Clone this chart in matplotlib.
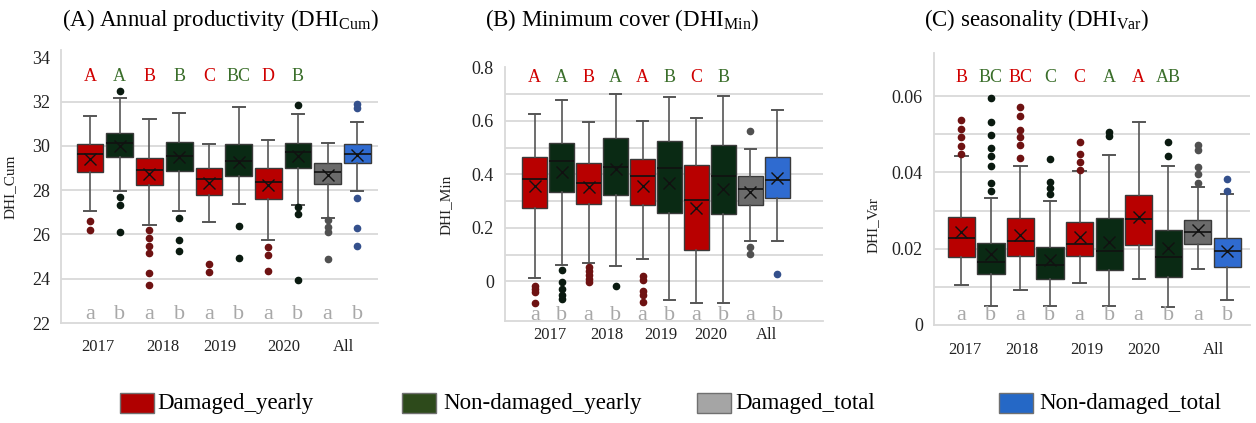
import matplotlib
matplotlib.use('Agg')
import matplotlib.pyplot as plt
from matplotlib.patches import Rectangle

plt.rcParams['font.family'] = ['Liberation Serif', 'DejaVu Serif']
plt.rcParams['mathtext.fontset'] = 'custom'
plt.rcParams['mathtext.rm'] = 'Liberation Serif'
plt.rcParams['mathtext.it'] = 'Liberation Serif:italic'

# order: 2017 D, 2017 ND, 2018 D, 2018 ND, 2019 D, 2019 ND, 2020 D, 2020 ND, All D, All ND
years = ['2017', '2018', '2019', '2020', 'All']
sig_ab = ['a', 'b'] * 5

# (A) DHI_Cum
cum_whishi = [31.36, 32.18, 31.20, 31.47, 30.07, 31.77, 30.26, 31.44, 30.14, 31.06]
cum_q3 = [30.08, 30.59, 29.45, 30.19, 29.01, 30.07, 28.98, 30.14, 29.24, 30.08]
cum_med = [29.61, 30.14, 28.90, 29.55, 28.48, 29.30, 28.38, 29.73, 28.80, 29.63]
cum_mean = [29.40, 30.00, 28.72, 29.50, 28.33, 29.28, 28.21, 29.55, 28.68, 29.58]
cum_q1 = [28.80, 29.51, 28.21, 28.87, 27.79, 28.63, 27.62, 28.98, 28.26, 29.21]
cum_whislo = [27.05, 27.95, 26.42, 27.05, 26.58, 27.37, 25.74, 27.32, 26.76, 27.97]
cum_fliers = [[26.61, 26.19], [32.48, 27.70, 27.31, 26.09],
              [26.22, 25.84, 25.47, 25.17, 24.28, 23.70], [26.75, 25.74, 25.26],
              [24.68, 24.31], [26.40, 24.94], [25.44, 25.06, 24.37],
              [31.84, 27.22, 26.94, 23.96], [26.64, 26.34, 26.12, 24.91],
              [31.89, 31.69, 27.65, 26.27, 25.47]]
cum_letters = ['A', 'A', 'B', 'B', 'C', 'BC', 'D', 'B']

# (B) DHI_Min
min_whishi = [0.625, 0.678, 0.594, 0.700, 0.599, 0.690, 0.609, 0.694, 0.494, 0.640]
min_q3 = [0.466, 0.518, 0.444, 0.534, 0.457, 0.526, 0.434, 0.509, 0.395, 0.463]
min_med = [0.381, 0.451, 0.367, 0.426, 0.393, 0.424, 0.303, 0.395, 0.345, 0.378]
min_mean = [0.356, 0.409, 0.353, 0.419, 0.357, 0.366, 0.275, 0.347, 0.335, 0.385]
min_q1 = [0.276, 0.333, 0.291, 0.322, 0.287, 0.256, 0.119, 0.251, 0.287, 0.313]
min_whislo = [0.012, 0.062, 0.069, 0.056, 0.084, -0.071, -0.081, -0.081, 0.151, 0.151]
min_fliers = [[-0.017, -0.029, -0.041, -0.081], [0.041, -0.002, -0.027, -0.052, -0.065],
              [0.054, 0.039, 0.025, 0.010, -0.002], [-0.017],
              [0.022, 0.006, -0.034, -0.050, -0.077], [], [], [],
              [0.562, 0.129, 0.101], [0.029]]
min_letters = ['A', 'A', 'B', 'A', 'A', 'B', 'C', 'B']

# (C) DHI_Var
var_whishi = [0.0442, 0.0334, 0.0416, 0.0324, 0.0404, 0.0446, 0.0531, 0.0418, 0.0361, 0.0343]
var_q3 = [0.0284, 0.0216, 0.0280, 0.0204, 0.0271, 0.0280, 0.0341, 0.0249, 0.0274, 0.0228]
var_med = [0.0228, 0.0166, 0.0221, 0.0158, 0.0212, 0.0193, 0.0277, 0.0178, 0.0243, 0.0195]
var_mean = [0.0243, 0.0186, 0.0236, 0.0171, 0.0230, 0.0217, 0.0283, 0.0201, 0.0249, 0.0194]
var_q1 = [0.0178, 0.0134, 0.0181, 0.0121, 0.0181, 0.0144, 0.0210, 0.0127, 0.0213, 0.0151]
var_whislo = [0.0105, 0.0050, 0.0092, 0.0050, 0.0109, 0.0050, 0.0121, 0.0046, 0.0146, 0.0066]
var_fliers = [[0.0537, 0.0514, 0.0493, 0.0470, 0.0449],
              [0.0595, 0.0531, 0.0499, 0.0464, 0.0442, 0.0418, 0.0372, 0.0352],
              [0.0571, 0.0547, 0.0512, 0.0492, 0.0471, 0.0438],
              [0.0435, 0.0376, 0.0359, 0.0344], [0.0479, 0.0449, 0.0426, 0.0407],
              [0.0505, 0.0495], [], [0.0480, 0.0442],
              [0.0473, 0.0460, 0.0413, 0.0396, 0.0372], [0.0382, 0.0350]]
var_letters = ['B', 'BC', 'BC', 'C', 'C', 'A', 'A', 'AB']

legend_names = ['Damaged_yearly', 'Non-damaged_yearly', 'Damaged_total', 'Non-damaged_total']

box_cols = ['#b80000', '#0a2a14'] * 4 + ['#6b6b6b', '#2f6bd0']
flier_cols = ['#6e1212', '#0a1a10'] * 4 + ['#505050', '#34508c']
letter_cols = ['#d00000', '#3a6e2a'] * 4
legend_cols = ['#b00000', '#2d4a1b', '#a5a5a5', '#2568c6']
grid_col = '#d9d9d9'

fig = plt.figure(figsize=(12.56, 4.23), dpi=100)


def draw_panel(rect, stats, fliers, letters, xlim, ylim, width, year_x, pad,
               yticks, ytlabels, grid_y, ylabel, ylab_xy, top_y, low_y):
    whishi, q3, med, mean, q1, whislo = stats
    ax = fig.add_axes(rect)
    pos = list(range(1, 11))
    bstats = []
    for i in range(10):
        bstats.append(dict(med=med[i], q1=q1[i], q3=q3[i], whislo=whislo[i],
                           whishi=whishi[i], mean=mean[i], fliers=fliers[i]))
    res = ax.bxp(bstats, positions=pos, widths=width, patch_artist=True,
                 showmeans=True, showfliers=True,
                 boxprops=dict(edgecolor='#3a3a3a', linewidth=1.0),
                 medianprops=dict(color='#111111', linewidth=1.2),
                 whiskerprops=dict(color='#555555', linewidth=1.2),
                 capprops=dict(color='#555555', linewidth=1.4),
                 meanprops=dict(marker='x', markersize=8, markeredgecolor='#111111',
                                markeredgewidth=1.0),
                 capwidths=width * 0.45)
    for i, b in enumerate(res['boxes']):
        b.set_facecolor(box_cols[i])
    for i, f in enumerate(res['fliers']):
        f.set(marker='o', markersize=4.5, markerfacecolor=flier_cols[i],
              markeredgecolor=flier_cols[i], linestyle='none')

    ax.set_xlim(*xlim)
    ax.set_ylim(*ylim)
    ax.set_xticks(year_x, years)
    ax.set_yticks(yticks, ytlabels)
    ax.tick_params(axis='both', length=0, colors='#222222')
    ax.tick_params(axis='x', labelsize=12, pad=pad)
    ax.tick_params(axis='y', labelsize=13, pad=8)
    for g in grid_y:
        ax.axhline(g, color=grid_col, linewidth=1.3, zorder=0)
    for s in ['top', 'right']:
        ax.spines[s].set_visible(False)
    for s in ['left', 'bottom']:
        ax.spines[s].set_color(grid_col)
        ax.spines[s].set_linewidth(1.3)
    ax.set_ylabel(ylabel, fontsize=11, color='#222222')
    ax.yaxis.set_label_coords(*ylab_xy)

    for i, t in enumerate(letters):
        ax.text(pos[i], top_y, t, color=letter_cols[i], fontsize=13,
                ha='center', va='center')
    for i, t in enumerate(sig_ab):
        ax.text(pos[i], low_y, t, color='#a8a8a8', fontsize=16,
                ha='center', va='center')
    return ax


draw_panel([0.0486, 0.2364, 0.2524, 0.6456],
           (cum_whishi, cum_q3, cum_med, cum_mean, cum_q1, cum_whislo), cum_fliers,
           cum_letters, (0.02, 10.7), (22, 34.33), 0.9,
           [1.27, 3.46, 5.38, 7.53, 9.52], 11.5,
           [22, 24, 26, 28, 30, 32, 34], ['22', '24', '26', '28', '30', '32', '34'],
           [24, 26, 28, 30, 32], 'DHI_Cum', (-0.139, 0.5), 33.13, 22.4)

draw_panel([0.402, 0.241, 0.2532, 0.600],
           (min_whishi, min_q3, min_med, min_mean, min_q1, min_whislo), min_fliers,
           min_letters, (-0.11, 11.7), (-0.148, 0.8), 0.93,
           [1.56, 3.66, 5.67, 7.52, 9.60], 4.5,
           [0, 0.2, 0.4, 0.6, 0.8], ['0', '0.2', '0.4', '0.6', '0.8'],
           [0, 0.1, 0.2, 0.3, 0.4, 0.5, 0.6, 0.7], 'DHI_Min', (-0.164, 0.457),
           0.763, -0.127)

draw_panel([0.7436, 0.2317, 0.2516, 0.643],
           (var_whishi, var_q3, var_med, var_mean, var_q1, var_whislo), var_fliers,
           var_letters, (0.07, 10.77), (0, 0.0713), 0.92,
           [1.11, 3.06, 5.23, 7.18, 9.53], 12,
           [0, 0.02, 0.04, 0.06], ['0', '0.02', '0.04', '0.06'],
           [0.01, 0.02, 0.03, 0.04, 0.05, 0.06], 'DHI_Var', (-0.171, 0.368),
           0.0650, 0.0026)

# panel titles
titles = [r'(A) Annual productivity (DHI$_{\mathrm{Cum}}$)',
          r'(B) Minimum cover (DHI$_{\mathrm{Min}}$)',
          r'(C) seasonality (DHI$_{\mathrm{Var}}$)']
title_x = [220, 622, 1037]
for t, x in zip(titles, title_x):
    fig.text(x / 1256, 1 - 20 / 423, t, fontsize=16.5, ha='center', va='center')

# legend row
patch_x = [120, 402, 697, 999]
text_x = [157, 443, 735, 1039]
for name, col, px, tx in zip(legend_names, legend_cols, patch_x, text_x):
    fig.patches.append(Rectangle((px / 1256, 1 - 413 / 423), 34 / 1256, 20 / 423,
                                 transform=fig.transFigure, facecolor=col,
                                 edgecolor='#707070', linewidth=1.0))
    fig.text(tx / 1256, 1 - 403 / 423, name, fontsize=16.5, ha='left', va='center')

fig.savefig('out.png', dpi=100)
